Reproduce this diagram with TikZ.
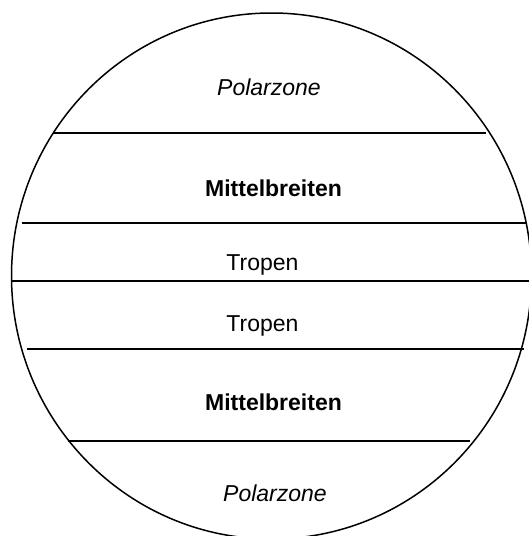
\documentclass[tikz,border=0pt]{standalone}
\usepackage{fontspec}
\setmainfont{Liberation Sans}
\begin{document}
\begin{tikzpicture}[x=1pt, y=-1pt, every node/.style={font=\fontsize{23}{27}\selectfont, anchor=base, inner sep=0pt}]
\useasboundingbox (0,0) rectangle (529,536);
\clip (0,0) rectangle (529,536);
\draw[line width=1.5pt] (271.5,276) ellipse [x radius=260, y radius=263];

% zone borders
\draw[line width=2pt] (53,132.7) -- (486,132.7);
\draw[line width=2pt] (22,222.7) -- (527,222.7);
\draw[line width=2pt] (12,281) -- (529,281);
\draw[line width=2pt] (27,349) -- (524,349);
\draw[line width=2pt] (68,440.7) -- (470,440.7);

\node (polN) at (269,95) {\itshape Polarzone};
\node (midN) at (273.5,196) {\bfseries Mittelbreiten};
\node (tropN) at (262.5,270) {Tropen};
\node (tropS) at (262.5,331.5) {Tropen};
\node (midS) at (273.5,410) {\bfseries Mittelbreiten};
\node (polS) at (275,501.5) {\itshape Polarzone};
\end{tikzpicture}
\end{document}
